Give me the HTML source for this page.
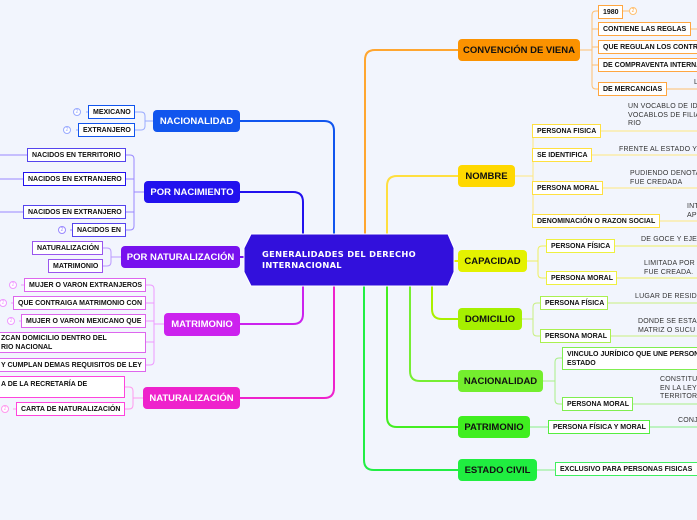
<!DOCTYPE html>
<html><head><meta charset="utf-8"><style>
body{margin:0;width:697px;height:520px;background:#f2f5fd;position:relative;overflow:hidden;font-family:"Liberation Sans",sans-serif}
.m{position:absolute;border-radius:4px;font-weight:bold;font-size:9.5px;display:flex;align-items:center;justify-content:center;color:#111;white-space:nowrap}
.w{color:#fff}
.c{position:absolute;background:#fff;border:1.5px solid;font-weight:bold;font-size:7px;color:#111;box-sizing:border-box;padding:0 4px;display:flex;align-items:center;white-space:nowrap;line-height:9px;overflow:hidden}
.t{position:absolute;font-size:7px;color:#333;line-height:8.5px;white-space:nowrap;letter-spacing:.2px}
.b{position:absolute;width:8px;height:8px;border-radius:50%;border:1px solid;box-sizing:border-box;font-size:5px;display:flex;align-items:center;justify-content:center;background:#fff}
svg{position:absolute;left:0;top:0}
</style></head><body>
<svg width="697" height="520" fill="none" stroke-width="2">
<!-- right main -->
<path d="M365 234 V60 Q365 50 375 50 H458" stroke="#ffa630"/>
<path d="M387 234 V186 Q387 176 397 176 H458" stroke="#ffdf40"/>
<path d="M454 261 H458" stroke="#e6f000"/>
<path d="M432 286 V309 Q432 319 442 319 H458" stroke="#aaf000"/>
<path d="M410 286 V371 Q410 381 420 381 H458" stroke="#77ee33"/>
<path d="M387 286 V417 Q387 427 397 427 H458" stroke="#44ee22"/>
<path d="M364 286 V460 Q364 470 374 470 H458" stroke="#22ee44"/>
<!-- left main -->
<path d="M240 121 H324 Q334 121 334 131 V234" stroke="#1155ee"/>
<path d="M240 192 H293 Q303 192 303 202 V234" stroke="#2211ee"/>
<path d="M240 257 H244" stroke="#7711ee"/>
<path d="M303 286 V314 Q303 324 293 324 H240" stroke="#cc22ee"/>
<path d="M334 286 V388 Q334 398 324 398 H240" stroke="#ee22cc"/>
<g stroke-width="1">
<!-- convencion -->
<g stroke="#ffc070"><path d="M580 50 H592"/><path d="M598 11 H596 Q592 11 592 15 V85 Q592 89 596 89 H598"/><path d="M592 29 H598 M592 47 H598 M592 65 H598"/><path d="M623 11 H629 M691 29 H697 M667 89 H697"/></g>
<!-- nombre -->
<g stroke="#ffe680"><path d="M515 176 H533"/><path d="M537 131 Q533 131 533 135 V217 Q533 221 537 221"/><path d="M533 155 H537 M533 188 H537"/><path d="M601 131 H697 M592 155 H697 M603 188 H697 M660 221 H697"/></g>
<g stroke="#eef060"><path d="M527 261 H538"/><path d="M546 246 H542 Q538 246 538 250 V274 Q538 278 542 278 H546"/><path d="M615 246 H697 M617 278 H697"/></g>
<g stroke="#c8f080"><path d="M522 319 H533"/><path d="M540 303 H537 Q533 303 533 307 V332 Q533 336 537 336 H540"/><path d="M608 303 H697 M611 336 H697"/></g>
<g stroke="#a8f088"><path d="M543 381 H555"/><path d="M562 358 H559 Q555 358 555 362 V400 Q555 404 559 404 H562"/><path d="M633 404 H697"/></g>
<g stroke="#88ee88"><path d="M530 427 H548 M650 427 H697"/><path d="M537 470 H555"/></g>
<!-- left subs -->
<g stroke="#99aaff"><path d="M153 121 H145"/><path d="M135 112 H141 Q145 112 145 116 V126 Q145 130 141 130 H135"/><path d="M86 112 H88 M76 130 H78"/></g>
<g stroke="#9988ff"><path d="M144 192 H134"/><path d="M126 155 H130 Q134 155 134 159 V226 Q134 230 130 230 H126"/><path d="M126 179 H134 M126 212 H134"/><path d="M0 155 H27 M0 179 H23 M0 212 H23 M70 230 H72"/></g>
<g stroke="#bb99ff"><path d="M121 257 H111"/><path d="M103 248 H107 Q111 248 111 252 V262 Q111 266 107 266 H103"/></g>
<g stroke="#ee99ff"><path d="M164 324 H154"/><path d="M146 285 H150 Q154 285 154 289 V361 Q154 365 150 365 H146"/><path d="M146 303 H154 M146 321 H154 M146 342 H154"/><path d="M21 285 H24 M11 303 H13 M19 321 H21"/></g>
<g stroke="#ff99ee"><path d="M143 398 H133"/><path d="M125 387 H129 Q133 387 133 391 V405 Q133 409 129 409 H125"/><path d="M13 409 H16"/></g>
</g>
</svg>
<svg width="697" height="520"><polygon points="251,234 448,234 454,248 454,272 448,286 251,286 244,272 244,248" fill="#3210dc" stroke="#fff" stroke-width="1"/></svg>
<div style="position:absolute;left:262px;top:249px;color:#fff;font-family:'DejaVu Sans',sans-serif;font-weight:bold;font-size:8.3px;line-height:11px;letter-spacing:.3px">GENERALIDADES DEL DERECHO<br>INTERNACIONAL</div>

<div class="m" style="left:458px;top:39px;width:122px;height:22px;background:#fb9200">CONVENCIÓN DE VIENA</div>
<div class="m" style="left:458px;top:165px;width:57px;height:22px;background:#ffd800">NOMBRE</div>
<div class="m" style="left:458px;top:250px;width:69px;height:22px;background:#e4f200">CAPACIDAD</div>
<div class="m" style="left:458px;top:308px;width:64px;height:22px;background:#a6f000">DOMICILIO</div>
<div class="m" style="left:458px;top:370px;width:85px;height:22px;background:#74ee2e">NACIONALIDAD</div>
<div class="m" style="left:458px;top:416px;width:72px;height:22px;background:#40ee20">PATRIMONIO</div>
<div class="m" style="left:458px;top:459px;width:79px;height:22px;background:#20ee40">ESTADO CIVIL</div>

<div class="m w" style="left:153px;top:110px;width:87px;height:22px;background:#1155ee">NACIONALIDAD</div>
<div class="m w" style="left:144px;top:181px;width:96px;height:22px;background:#2211ee">POR NACIMIENTO</div>
<div class="m w" style="left:121px;top:246px;width:119px;height:22px;background:#7711ee">POR NATURALIZACIÓN</div>
<div class="m w" style="left:164px;top:313px;width:76px;height:23px;background:#cc22ee">MATRIMONIO</div>
<div class="m w" style="left:143px;top:387px;width:97px;height:22px;background:#ee22cc">NATURALIZACIÓN</div>

<!-- convencion children -->
<div class="c" style="left:598px;top:5px;width:25px;height:14px;border-color:#ffa640">1980</div>
<div class="b" style="left:629px;top:7px;border-color:#ffc070;color:#ffa640">2</div>
<div class="c" style="left:598px;top:22px;width:93px;height:14px;border-color:#ffa640">CONTIENE LAS REGLAS</div>
<div class="c" style="left:598px;top:40px;width:110px;height:14px;border-color:#ffa640">QUE REGULAN LOS CONTRATOS</div>
<div class="c" style="left:598px;top:58px;width:110px;height:14px;border-color:#ffa640">DE COMPRAVENTA INTERNACIONAL</div>
<div class="c" style="left:598px;top:82px;width:69px;height:14px;border-color:#ffa640">DE MERCANCIAS</div>
<div class="t" style="left:694px;top:79px">L</div>
<!-- nombre -->
<div class="c" style="left:532px;top:124px;width:69px;height:14px;border-color:#ffe040">PERSONA FISICA</div>
<div class="c" style="left:532px;top:148px;width:60px;height:14px;border-color:#ffe040">SE IDENTIFICA</div>
<div class="c" style="left:532px;top:181px;width:71px;height:14px;border-color:#ffe040">PERSONA MORAL</div>
<div class="c" style="left:532px;top:214px;width:128px;height:14px;border-color:#ffe040">DENOMINACIÓN O RAZON SOCIAL</div>
<div class="t" style="left:628px;top:103px">UN VOCABLO DE ID<br>VOCABLOS DE FILIA<br>RIO</div>
<div class="t" style="left:619px;top:146px">FRENTE AL ESTADO Y</div>
<div class="t" style="left:630px;top:170px">PUDIENDO DENOTA<br>FUE CREDADA</div>
<div class="t" style="left:687px;top:203px">INT<br>API</div>
<!-- capacidad -->
<div class="c" style="left:546px;top:239px;width:69px;height:14px;border-color:#eef040">PERSONA FÍSICA</div>
<div class="c" style="left:546px;top:271px;width:71px;height:14px;border-color:#eef040">PERSONA MORAL</div>
<div class="t" style="left:641px;top:236px">DE GOCE Y EJER</div>
<div class="t" style="left:644px;top:260px">LIMITADA POR<br>FUE CREADA.</div>
<!-- domicilio -->
<div class="c" style="left:540px;top:296px;width:68px;height:14px;border-color:#aaf050">PERSONA FÍSICA</div>
<div class="c" style="left:540px;top:329px;width:71px;height:14px;border-color:#aaf050">PERSONA MORAL</div>
<div class="t" style="left:635px;top:293px">LUGAR DE RESID</div>
<div class="t" style="left:638px;top:318px">DONDE SE ESTA<br>MATRIZ O SUCU</div>
<!-- nacionalidad -->
<div class="c" style="left:562px;top:347px;width:140px;height:23px;border-color:#80ee50">VINCULO JURÍDICO QUE UNE PERSONA<br>ESTADO</div>
<div class="c" style="left:562px;top:397px;width:71px;height:14px;border-color:#80ee50">PERSONA MORAL</div>
<div class="t" style="left:660px;top:376px">CONSTITU<br>EN LA LEY<br>TERRITOR</div>
<!-- patrimonio / estado -->
<div class="c" style="left:548px;top:420px;width:102px;height:14px;border-color:#55ee40">PERSONA FÍSICA Y MORAL</div>
<div class="t" style="left:678px;top:417px">CONJ</div>
<div class="c" style="left:555px;top:462px;width:145px;height:14px;border-color:#40ee60">EXCLUSIVO PARA PERSONAS FISICAS</div>

<!-- left children -->
<div class="c" style="left:88px;top:105px;width:47px;height:14px;border-color:#1155ee">MEXICANO</div>
<div class="c" style="left:78px;top:123px;width:57px;height:14px;border-color:#1155ee">EXTRANJERO</div>
<div class="b" style="left:73px;top:108px;border-color:#99aaff;color:#99aaff">2</div>
<div class="b" style="left:63px;top:126px;border-color:#99aaff;color:#99aaff">2</div>

<div class="c" style="left:27px;top:148px;width:99px;height:14px;border-color:#5544ee">NACIDOS EN TERRITORIO</div>
<div class="c" style="left:23px;top:172px;width:103px;height:14px;border-color:#2211ee">NACIDOS EN EXTRANJERO</div>
<div class="c" style="left:23px;top:205px;width:103px;height:14px;border-color:#5544ee">NACIDOS EN EXTRANJERO</div>
<div class="c" style="left:72px;top:223px;width:54px;height:14px;border-color:#5544ee">NACIDOS EN</div>
<div class="b" style="left:58px;top:226px;border-color:#9988ff;color:#9988ff">2</div>

<div class="c" style="left:32px;top:241px;width:71px;height:14px;border-color:#9955ee">NATURALIZACIÓN</div>
<div class="c" style="left:48px;top:259px;width:55px;height:14px;border-color:#9955ee">MATRIMONIO</div>

<div class="c" style="left:24px;top:278px;width:122px;height:14px;border-color:#dd66ee">MUJER O VARON EXTRANJEROS</div>
<div class="c" style="left:13px;top:296px;width:133px;height:14px;border-color:#dd66ee">QUE CONTRAIGA MATRIMONIO CON</div>
<div class="c" style="left:21px;top:314px;width:125px;height:14px;border-color:#dd66ee">MUJER O VARON MEXICANO QUE</div>
<div class="c" style="left:-4px;top:332px;width:150px;height:21px;border-color:#dd66ee">ZCAN DOMICILIO DENTRO DEL<br>RIO NACIONAL</div>
<div class="c" style="left:-4px;top:358px;width:150px;height:14px;border-color:#dd66ee">Y CUMPLAN DEMAS REQUISITOS DE LEY</div>
<div class="b" style="left:9px;top:281px;border-color:#ee99ff;color:#ee99ff">2</div>
<div class="b" style="left:-1px;top:299px;border-color:#ee99ff;color:#ee99ff">2</div>
<div class="b" style="left:7px;top:317px;border-color:#ee99ff;color:#ee99ff">2</div>

<div class="c" style="left:-4px;top:376px;width:129px;height:22px;border-color:#ff44dd;align-items:flex-start;padding-top:3px">A DE LA RECRETARÍA DE</div>
<div class="c" style="left:16px;top:402px;width:109px;height:14px;border-color:#ff44dd">CARTA DE NATURALIZACIÓN</div>
<div class="b" style="left:1px;top:405px;border-color:#ff99ee;color:#ff99ee">2</div>
</body></html>
